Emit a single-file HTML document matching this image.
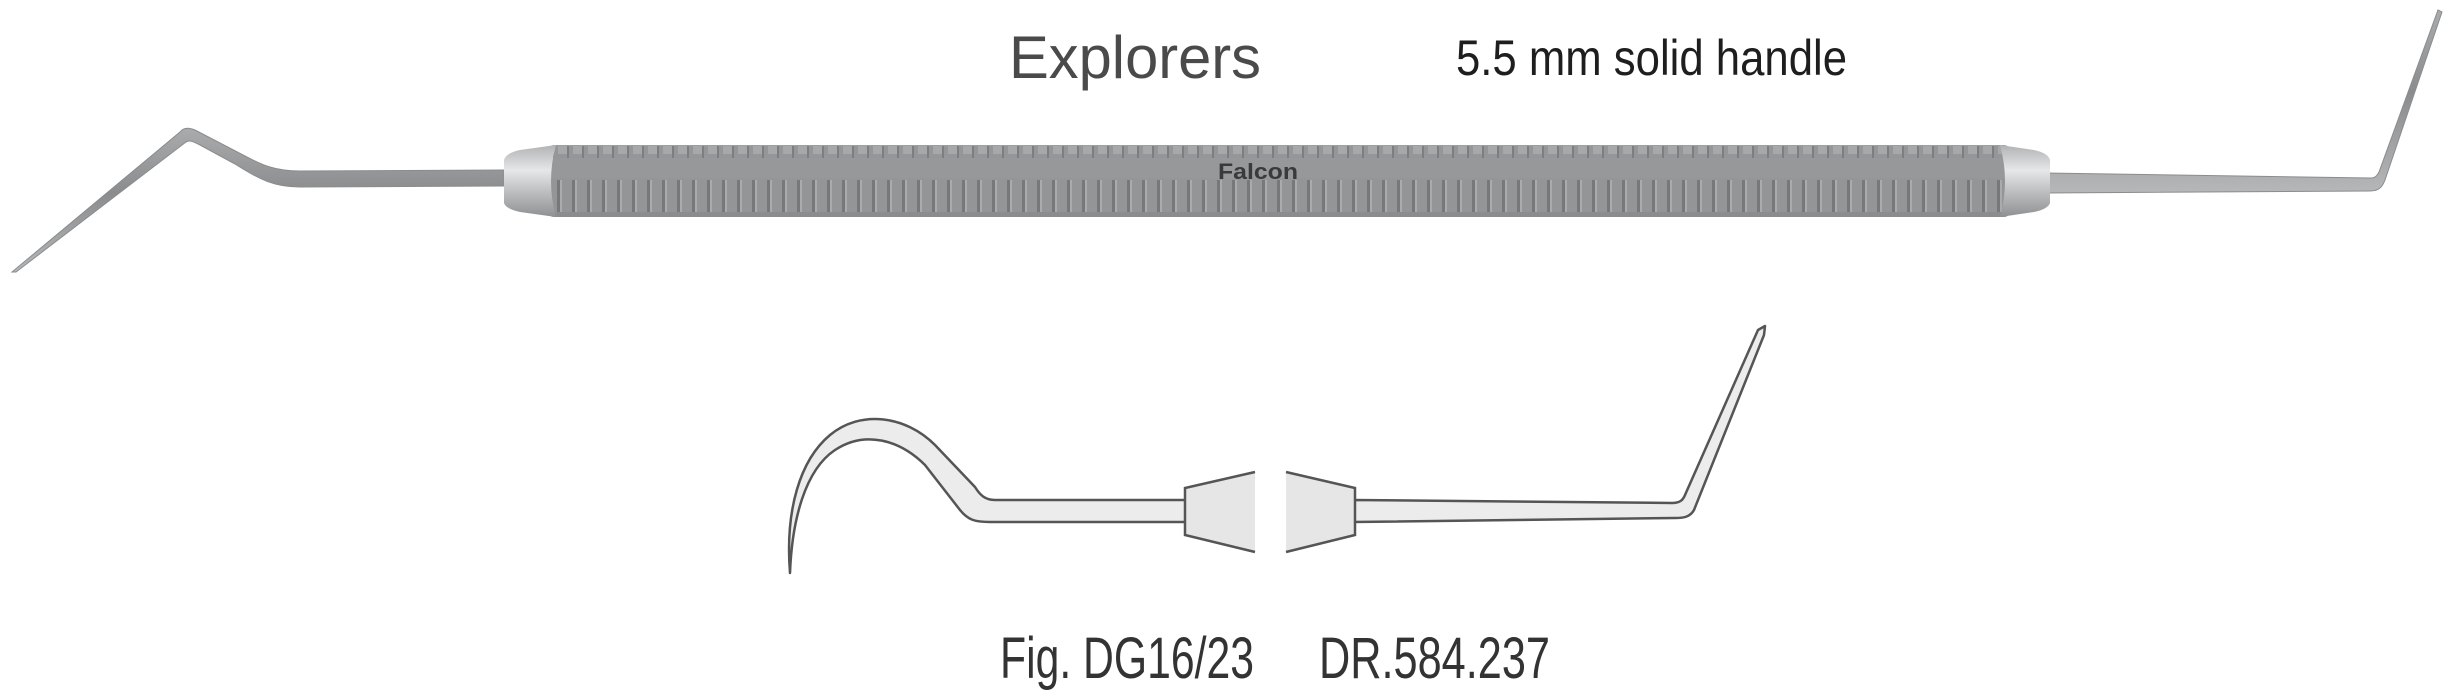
<!DOCTYPE html>
<html><head><meta charset="utf-8"><style>
html,body{margin:0;padding:0;background:#fff;width:2454px;height:696px;overflow:hidden}
svg{display:block}
text{font-family:"Liberation Sans",sans-serif}
</style></head><body>
<svg width="2454" height="696" viewBox="0 0 2454 696" xmlns="http://www.w3.org/2000/svg">
<defs>
<linearGradient id="shaft" x1="0" y1="0" x2="0" y2="1">
<stop offset="0" stop-color="#a9abad"/><stop offset="0.45" stop-color="#8a8c8e"/><stop offset="1" stop-color="#b5b7b9"/>
</linearGradient>
<linearGradient id="cap" x1="0" y1="0" x2="0" y2="1">
<stop offset="0" stop-color="#b0b2b4"/><stop offset="0.35" stop-color="#e6e7e8"/><stop offset="0.6" stop-color="#c4c5c7"/><stop offset="1" stop-color="#8e9092"/>
</linearGradient>
<linearGradient id="body" x1="0" y1="0" x2="0" y2="1">
<stop offset="0" stop-color="#9c9ea0"/><stop offset="0.5" stop-color="#939597"/><stop offset="1" stop-color="#8a8c8e"/>
</linearGradient>
<pattern id="knurlTop" x="0" y="0" width="15" height="12" patternUnits="userSpaceOnUse">
<rect x="0" y="0" width="15" height="12" fill="#94969a"/>
<rect x="3" y="2" width="9" height="8" fill="#a6a8aa"/>
<rect x="12" y="0" width="2" height="12" fill="#7c7e80"/>
</pattern>
<pattern id="knurlBot" x="0" y="0" width="15" height="34" patternUnits="userSpaceOnUse">
<rect x="0" y="0" width="15" height="34" fill="#939597"/>
<rect x="2" y="0" width="3" height="34" fill="#76787a"/>
<rect x="5" y="0" width="2" height="34" fill="#a9abad"/>
</pattern>
</defs>

<text x="1009" y="78" font-size="60" fill="#4a4a4a" textLength="252" lengthAdjust="spacingAndGlyphs">Explorers</text>
<text x="1456" y="75" font-size="50" fill="#1e1e1e" textLength="391" lengthAdjust="spacingAndGlyphs">5.5 mm solid handle</text>

<path d="M504,170 L300,171 C275,171 262,165 245,156 L195,130 C188,127 183,128 180,132 L12,272 L16,272 L186,142 C190,140 192,141 200,145 L235,164 C260,180 275,187 300,187 L504,186 Z" fill="url(#shaft)" stroke="#8a8c8e" stroke-width="1"/>
<path d="M2046,173 L2370,178 C2375,178 2377,176 2379,172 L2438,10 L2442,12 L2385,180 C2382,188 2378,191 2370,191 L2046,193 Z" fill="url(#shaft)" stroke="#8a8c8e" stroke-width="1"/>

<rect x="548" y="145" width="1462" height="72" rx="6" fill="url(#body)"/>
<rect x="552" y="146" width="1454" height="12" fill="url(#knurlTop)"/>
<rect x="548" y="158" width="1462" height="20" fill="#96989a"/>
<rect x="552" y="180" width="1454" height="32" fill="url(#knurlBot)"/>
<path d="M504,160 Q506,153 520,150 L556,145 Q546,181 556,217 L520,212 Q506,209 504,203 Z" fill="url(#cap)"/>
<path d="M2050,160 Q2048,153 2034,150 L2000,145 Q2010,181 2000,217 L2034,212 Q2048,209 2050,203 Z" fill="url(#cap)"/>
<text x="1218" y="179" font-size="22" font-weight="bold" fill="#3a3a3a" textLength="80" lengthAdjust="spacingAndGlyphs">Falcon</text>

<path d="M1187,500 L995,500 C985,500 980,495 975,487 L935,445 C905,415 860,410 830,435 C800,460 785,510 790,573 C792,520 805,470 835,450 C865,430 900,440 925,465 L960,510 C968,520 975,522 990,522 L1187,522 Z" fill="#ececec" stroke="#555" stroke-width="2.5" stroke-linejoin="round"/>
<path d="M1353,500 L1672,503 C1680,503 1683,500 1685,495 L1758,330 L1765,326 L1764,335 L1694,510 C1690,517 1684,518 1675,518 L1353,522 Z" fill="#ececec" stroke="#555" stroke-width="2.5" stroke-linejoin="round"/>
<polygon points="1185,488 1255,472 1255,552 1185,535" fill="#e6e6e6"/>
<polyline points="1255,472 1185,488 1185,535 1255,552" fill="none" stroke="#555" stroke-width="2.5"/>
<polygon points="1286,472 1355,488 1355,535 1286,552" fill="#e6e6e6"/>
<polyline points="1286,472 1355,488 1355,535 1286,552" fill="none" stroke="#555" stroke-width="2.5"/>

<text x="1000" y="678" font-size="58" fill="#333" textLength="254" lengthAdjust="spacingAndGlyphs">Fig. DG16/23</text>
<text x="1319" y="678" font-size="58" fill="#333" textLength="231" lengthAdjust="spacingAndGlyphs">DR.584.237</text>
</svg>
</body></html>
